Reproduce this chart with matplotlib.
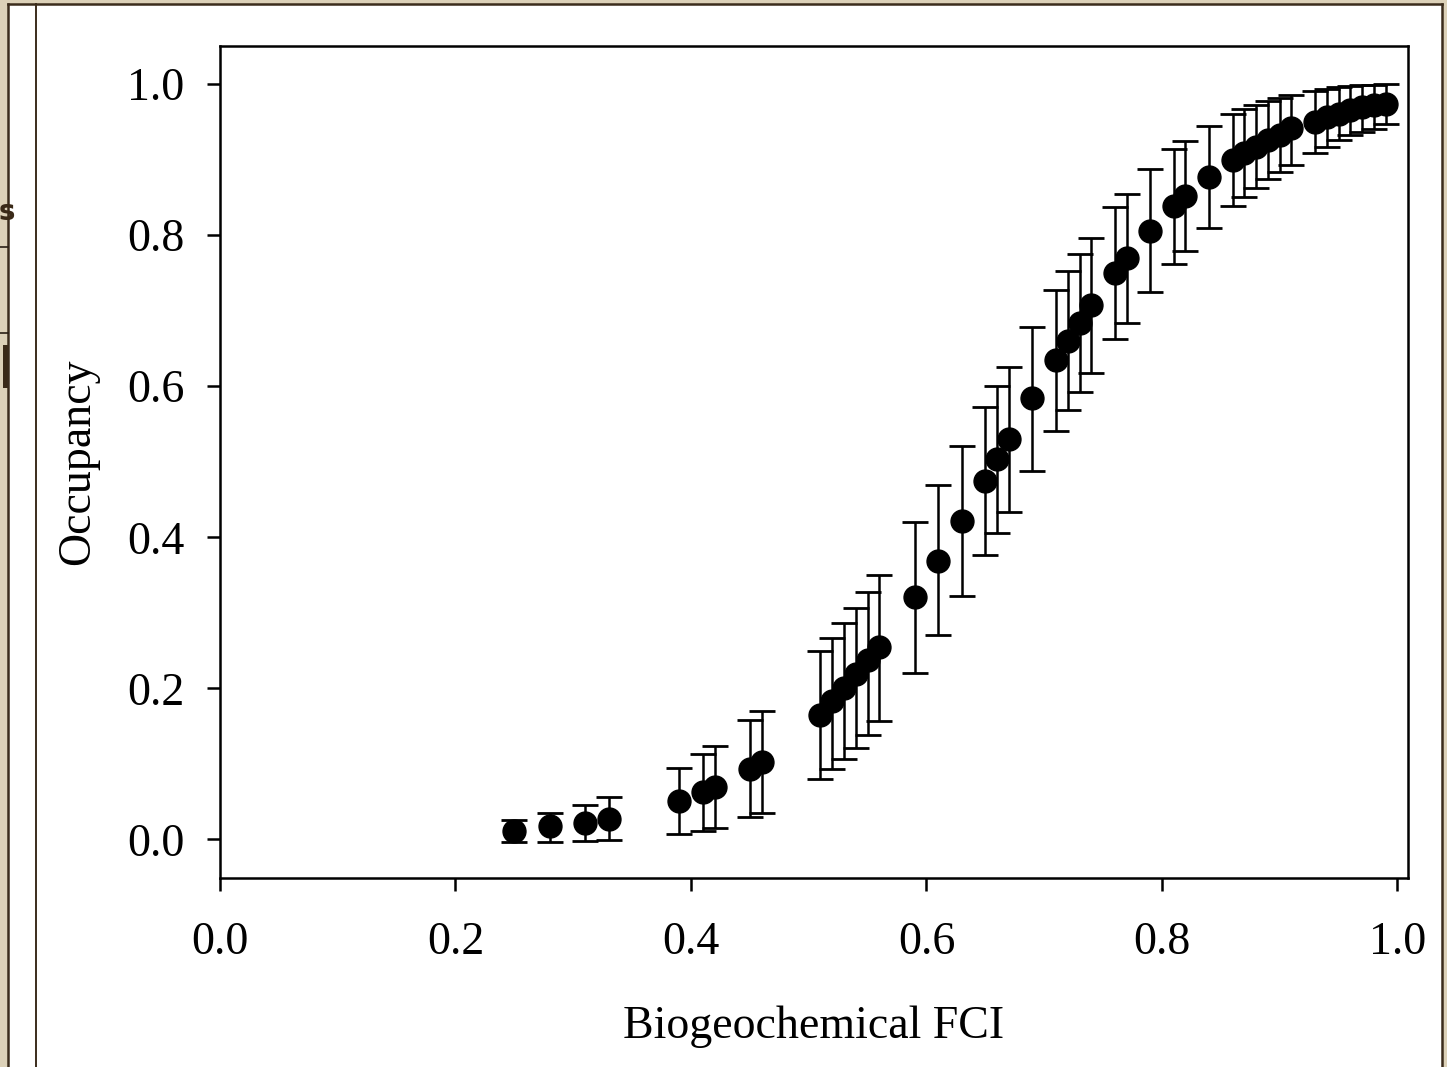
import matplotlib
matplotlib.use("Agg")
import matplotlib.pyplot as plt
from matplotlib.patches import Rectangle
from matplotlib.lines import Line2D
import numpy as np

# ---- data ----
fci = [0.25, 0.28, 0.31, 0.33, 0.39, 0.41, 0.42, 0.45, 0.46,
       0.51, 0.52, 0.53, 0.54, 0.55, 0.56,
       0.59, 0.61, 0.63, 0.65, 0.66, 0.67, 0.69, 0.71, 0.72, 0.73, 0.74,
       0.76, 0.77, 0.79, 0.81, 0.82, 0.84,
       0.86, 0.87, 0.88, 0.89, 0.90, 0.91,
       0.93, 0.94, 0.95, 0.96, 0.97, 0.98, 0.99]
occupancy = [0.011, 0.018, 0.022, 0.027, 0.051, 0.063, 0.069, 0.093, 0.102,
             0.165, 0.183, 0.201, 0.219, 0.237, 0.255,
             0.321, 0.369, 0.421, 0.475, 0.503, 0.530, 0.584, 0.635, 0.660, 0.684, 0.708,
             0.750, 0.770, 0.806, 0.838, 0.852, 0.877,
             0.899, 0.909, 0.917, 0.926, 0.933, 0.942,
             0.950, 0.956, 0.961, 0.966, 0.970, 0.972, 0.974]
upper = [0.026, 0.035, 0.046, 0.056, 0.095, 0.113, 0.123, 0.158, 0.170,
         0.250, 0.267, 0.287, 0.307, 0.328, 0.350,
         0.420, 0.469, 0.521, 0.572, 0.600, 0.625, 0.678, 0.728, 0.752, 0.775, 0.796,
         0.837, 0.855, 0.887, 0.914, 0.925, 0.945,
         0.961, 0.967, 0.973, 0.978, 0.982, 0.985,
         0.991, 0.993, 0.996, 0.997, 0.999, 0.999, 1.000]
lower = [-0.004, -0.004, -0.002, -0.001, 0.007, 0.011, 0.015, 0.029, 0.035,
         0.080, 0.093, 0.107, 0.121, 0.138, 0.157,
         0.220, 0.270, 0.322, 0.376, 0.405, 0.433, 0.488, 0.541, 0.568, 0.592, 0.617,
         0.663, 0.684, 0.725, 0.762, 0.779, 0.810,
         0.839, 0.851, 0.863, 0.874, 0.883, 0.893,
         0.909, 0.917, 0.926, 0.932, 0.937, 0.941, 0.947]
xticks = [0.0, 0.2, 0.4, 0.6, 0.8, 1.0]
yticks = [0.0, 0.2, 0.4, 0.6, 0.8, 1.0]
xlabel = "Biogeochemical FCI"
ylabel = "Occupancy"

W, H = 1447, 1067
plt.rcParams['font.family'] = ['Liberation Serif', 'DejaVu Serif']
fig = plt.figure(figsize=(W / 100, H / 100), dpi=100)
fig.patch.set_facecolor('#dcd1b8')

# slide-like background: white panel with dark borders
def px_rect(x0, y0, x1, y1, **kw):
    fig.add_artist(Rectangle((x0 / W, 1 - y1 / H), (x1 - x0) / W, (y1 - y0) / H,
                             transform=fig.transFigure, **kw))

def px_line(x0, y0, x1, y1, **kw):
    fig.add_artist(Line2D([x0 / W, x1 / W], [1 - y0 / H, 1 - y1 / H],
                          transform=fig.transFigure, **kw))

px_rect(8, 4, 1442, H + 5, facecolor='white', edgecolor='none', zorder=0)
border = '#3b2c1c'
px_line(8, 4, 1442, 4, color=border, lw=1.8)
px_line(8, 4, 8, H, color=border, lw=1.8)
px_line(1442, 4, 1442, H, color=border, lw=1.8)
px_line(36, 4, 36, H, color=border, lw=1.4)
px_line(0, 247, 8, 247, color='#2a2015', lw=1.2)
px_line(0, 333, 8, 333, color='#2a2015', lw=1.2)
px_rect(3, 345, 8, 388, facecolor='#3a2a18', edgecolor='none')
fig.text(-1 / W, 1 - 212 / H, 's', fontsize=20, fontweight='bold', color='#3a2a18',
         family='DejaVu Sans', va='center', ha='left')

ax = fig.add_axes([220 / W, 1 - 877.5 / H, 1188 / W, (877.5 - 46) / H])
ax.set_facecolor('white')

occ = np.array(occupancy)
yerr = np.vstack([occ - np.array(lower), np.array(upper) - occ])
ax.errorbar(fci, occupancy, yerr=yerr, fmt='o', color='black', ms=16.5,
            elinewidth=1.8, capsize=9.5, capthick=2.0, mec='black', mfc='black')

ax.set_xlim(0, 1.009)
ax.set_ylim(-0.0505, 1.0505)
ax.set_xticks(xticks)
ax.set_yticks(yticks)
ax.set_xticklabels([f"{v:.1f}" for v in xticks])
ax.set_yticklabels([f"{v:.1f}" for v in yticks])
for s in ax.spines.values():
    s.set_linewidth(1.8)
ax.tick_params(axis='both', direction='out', length=9.5, width=1.8, labelsize=33)
ax.tick_params(axis='y', pad=16)
ax.tick_params(axis='x', pad=22)
ax.set_xlabel(xlabel, fontsize=33, labelpad=30)
ax.set_ylabel(ylabel, fontsize=33, labelpad=20)

fig.savefig('out.png', dpi=100, facecolor=fig.get_facecolor())
